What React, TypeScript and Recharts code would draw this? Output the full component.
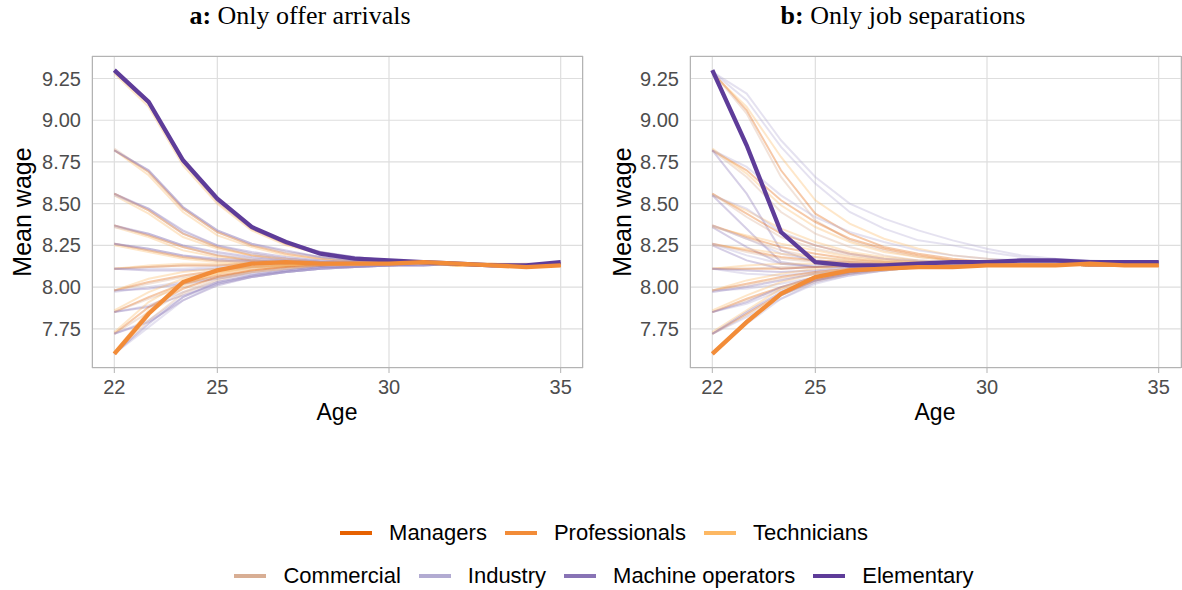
import { LineChart, Line, XAxis, YAxis, CartesianGrid } from "recharts";

// ages on the x axis
const ages = [22, 23, 24, 25, 26, 27, 28, 29, 30, 31, 32, 33, 34, 35];
const ageTicks = [22, 25, 30, 35];
const wageTicks = [7.75, 8, 8.25, 8.5, 8.75, 9, 9.25];

const occupations = [
  "Managers",
  "Professionals",
  "Technicians",
  "Commercial",
  "Industry",
  "Machine operators",
  "Elementary",
];

type Path = [string, number[]];

// a: only offer arrivals (thin paths, one per starting wage and occupation)
const offerPaths: Path[] = [
  ["Managers", [9.29, 9.10, 8.75, 8.52, 8.35, 8.26, 8.20, 8.17, 8.16, 8.15, 8.14, 8.14, 8.13, 8.13]],
  ["Technicians", [9.28, 9.08, 8.73, 8.50, 8.34, 8.25, 8.20, 8.17, 8.15, 8.15, 8.14, 8.14, 8.14, 8.13]],
  ["Commercial", [9.29, 9.10, 8.75, 8.51, 8.35, 8.26, 8.21, 8.17, 8.16, 8.15, 8.14, 8.13, 8.14, 8.14]],
  ["Industry", [9.29, 9.11, 8.76, 8.52, 8.36, 8.27, 8.21, 8.18, 8.16, 8.15, 8.14, 8.13, 8.13, 8.14]],
  ["Machine operators", [9.29, 9.11, 8.76, 8.53, 8.36, 8.27, 8.21, 8.18, 8.16, 8.15, 8.14, 8.13, 8.13, 8.14]],

  ["Managers", [8.82, 8.69, 8.47, 8.33, 8.25, 8.20, 8.17, 8.15, 8.15, 8.14, 8.14, 8.13, 8.13, 8.13]],
  ["Technicians", [8.82, 8.67, 8.45, 8.31, 8.24, 8.19, 8.17, 8.16, 8.15, 8.14, 8.14, 8.14, 8.13, 8.13]],
  ["Commercial", [8.83, 8.69, 8.47, 8.33, 8.25, 8.21, 8.18, 8.16, 8.15, 8.14, 8.14, 8.13, 8.13, 8.14]],
  ["Industry", [8.82, 8.70, 8.48, 8.34, 8.26, 8.21, 8.18, 8.16, 8.15, 8.15, 8.14, 8.13, 8.13, 8.14]],
  ["Machine operators", [8.82, 8.70, 8.48, 8.34, 8.26, 8.22, 8.18, 8.16, 8.15, 8.15, 8.14, 8.13, 8.13, 8.14]],

  ["Managers", [8.56, 8.46, 8.32, 8.24, 8.19, 8.17, 8.15, 8.15, 8.14, 8.14, 8.14, 8.13, 8.13, 8.13]],
  ["Technicians", [8.55, 8.44, 8.30, 8.23, 8.19, 8.16, 8.15, 8.14, 8.14, 8.14, 8.14, 8.13, 8.13, 8.13]],
  ["Commercial", [8.56, 8.46, 8.32, 8.24, 8.20, 8.17, 8.15, 8.15, 8.14, 8.14, 8.14, 8.13, 8.13, 8.14]],
  ["Industry", [8.55, 8.47, 8.33, 8.25, 8.20, 8.17, 8.16, 8.15, 8.14, 8.14, 8.14, 8.13, 8.13, 8.14]],
  ["Machine operators", [8.56, 8.47, 8.34, 8.25, 8.21, 8.18, 8.16, 8.15, 8.14, 8.14, 8.14, 8.13, 8.13, 8.14]],

  ["Managers", [8.37, 8.31, 8.24, 8.19, 8.16, 8.15, 8.14, 8.14, 8.14, 8.14, 8.14, 8.13, 8.13, 8.13]],
  ["Technicians", [8.36, 8.30, 8.22, 8.18, 8.16, 8.15, 8.14, 8.14, 8.14, 8.14, 8.13, 8.13, 8.13, 8.13]],
  ["Commercial", [8.37, 8.31, 8.24, 8.19, 8.17, 8.15, 8.15, 8.14, 8.14, 8.14, 8.14, 8.13, 8.13, 8.14]],
  ["Industry", [8.36, 8.32, 8.25, 8.20, 8.17, 8.16, 8.15, 8.14, 8.14, 8.14, 8.14, 8.13, 8.13, 8.14]],
  ["Machine operators", [8.37, 8.32, 8.25, 8.21, 8.18, 8.16, 8.15, 8.14, 8.14, 8.14, 8.14, 8.13, 8.13, 8.14]],

  ["Managers", [8.26, 8.22, 8.18, 8.16, 8.15, 8.14, 8.14, 8.14, 8.14, 8.14, 8.14, 8.13, 8.13, 8.13]],
  ["Technicians", [8.25, 8.21, 8.17, 8.15, 8.14, 8.14, 8.14, 8.14, 8.14, 8.14, 8.13, 8.13, 8.13, 8.13]],
  ["Commercial", [8.26, 8.22, 8.18, 8.16, 8.15, 8.14, 8.14, 8.14, 8.14, 8.14, 8.14, 8.13, 8.13, 8.14]],
  ["Industry", [8.26, 8.23, 8.19, 8.16, 8.15, 8.15, 8.14, 8.14, 8.14, 8.14, 8.14, 8.13, 8.13, 8.14]],
  ["Machine operators", [8.26, 8.23, 8.19, 8.17, 8.16, 8.15, 8.14, 8.14, 8.14, 8.14, 8.14, 8.13, 8.13, 8.14]],

  ["Managers", [8.11, 8.12, 8.13, 8.13, 8.14, 8.14, 8.14, 8.14, 8.14, 8.14, 8.14, 8.13, 8.13, 8.13]],
  ["Technicians", [8.11, 8.13, 8.14, 8.14, 8.14, 8.14, 8.14, 8.14, 8.14, 8.14, 8.13, 8.13, 8.13, 8.13]],
  ["Commercial", [8.11, 8.12, 8.13, 8.13, 8.14, 8.14, 8.14, 8.14, 8.14, 8.14, 8.14, 8.13, 8.13, 8.14]],
  ["Industry", [8.11, 8.11, 8.11, 8.12, 8.13, 8.13, 8.14, 8.14, 8.14, 8.14, 8.14, 8.13, 8.13, 8.14]],
  ["Machine operators", [8.11, 8.10, 8.10, 8.11, 8.12, 8.13, 8.13, 8.14, 8.14, 8.14, 8.14, 8.13, 8.13, 8.14]],

  ["Managers", [7.98, 8.03, 8.07, 8.10, 8.12, 8.13, 8.14, 8.14, 8.14, 8.14, 8.14, 8.13, 8.13, 8.13]],
  ["Technicians", [7.98, 8.05, 8.09, 8.11, 8.13, 8.13, 8.14, 8.14, 8.14, 8.14, 8.13, 8.13, 8.13, 8.13]],
  ["Commercial", [7.98, 8.02, 8.06, 8.09, 8.11, 8.12, 8.13, 8.14, 8.14, 8.14, 8.14, 8.13, 8.13, 8.14]],
  ["Industry", [7.97, 8.00, 8.03, 8.06, 8.09, 8.11, 8.12, 8.13, 8.13, 8.14, 8.14, 8.13, 8.13, 8.14]],
  ["Machine operators", [7.98, 7.99, 8.02, 8.05, 8.08, 8.10, 8.12, 8.13, 8.13, 8.14, 8.14, 8.13, 8.13, 8.14]],

  ["Managers", [7.85, 7.94, 8.02, 8.07, 8.10, 8.12, 8.13, 8.14, 8.14, 8.14, 8.14, 8.13, 8.13, 8.13]],
  ["Technicians", [7.86, 7.97, 8.05, 8.09, 8.12, 8.13, 8.14, 8.14, 8.14, 8.14, 8.13, 8.13, 8.13, 8.13]],
  ["Commercial", [7.85, 7.93, 8.00, 8.06, 8.09, 8.11, 8.13, 8.13, 8.14, 8.14, 8.14, 8.13, 8.13, 8.14]],
  ["Industry", [7.85, 7.89, 7.97, 8.03, 8.07, 8.09, 8.11, 8.12, 8.13, 8.14, 8.14, 8.13, 8.13, 8.14]],
  ["Machine operators", [7.85, 7.88, 7.95, 8.02, 8.06, 8.09, 8.11, 8.12, 8.13, 8.13, 8.14, 8.13, 8.13, 8.14]],

  ["Managers", [7.72, 7.88, 7.99, 8.06, 8.10, 8.12, 8.13, 8.14, 8.14, 8.14, 8.14, 8.13, 8.13, 8.13]],
  ["Technicians", [7.73, 7.91, 8.03, 8.08, 8.11, 8.13, 8.14, 8.14, 8.14, 8.14, 8.13, 8.13, 8.13, 8.13]],
  ["Commercial", [7.72, 7.85, 7.97, 8.05, 8.09, 8.11, 8.13, 8.13, 8.14, 8.14, 8.14, 8.13, 8.13, 8.14]],
  ["Industry", [7.72, 7.80, 7.94, 8.02, 8.07, 8.09, 8.11, 8.12, 8.13, 8.14, 8.14, 8.13, 8.13, 8.14]],
  ["Machine operators", [7.72, 7.79, 7.92, 8.01, 8.06, 8.09, 8.11, 8.12, 8.13, 8.13, 8.14, 8.13, 8.13, 8.14]],

  ["Technicians", [7.61, 7.86, 8.01, 8.08, 8.12, 8.13, 8.14, 8.14, 8.14, 8.14, 8.13, 8.13, 8.13, 8.13]],
  ["Commercial", [7.60, 7.80, 7.96, 8.04, 8.09, 8.11, 8.13, 8.13, 8.14, 8.14, 8.14, 8.13, 8.13, 8.14]],
  ["Industry", [7.60, 7.76, 7.92, 8.02, 8.06, 8.09, 8.11, 8.12, 8.13, 8.14, 8.14, 8.13, 8.13, 8.14]],
  ["Machine operators", [7.60, 7.78, 7.94, 8.03, 8.07, 8.10, 8.12, 8.12, 8.13, 8.13, 8.14, 8.13, 8.13, 8.14]],
];

// the two thick paths in panel a
const offerHighlights: Path[] = [
  ["Elementary", [9.30, 9.11, 8.76, 8.53, 8.36, 8.27, 8.20, 8.17, 8.16, 8.15, 8.14, 8.13, 8.13, 8.15]],
  ["Professionals", [7.60, 7.84, 8.03, 8.10, 8.14, 8.15, 8.14, 8.14, 8.14, 8.15, 8.14, 8.13, 8.12, 8.13]],
];

// b: only job separations
const separationPaths: Path[] = [
  ["Managers", [9.29, 9.06, 8.70, 8.44, 8.32, 8.24, 8.20, 8.17, 8.15, 8.14, 8.14, 8.13, 8.13, 8.13]],
  ["Technicians", [9.28, 9.08, 8.78, 8.52, 8.38, 8.29, 8.23, 8.19, 8.17, 8.15, 8.14, 8.14, 8.13, 8.13]],
  ["Commercial", [9.29, 9.04, 8.66, 8.40, 8.28, 8.22, 8.18, 8.16, 8.15, 8.14, 8.14, 8.13, 8.13, 8.14]],
  ["Industry", [9.29, 9.16, 8.88, 8.66, 8.50, 8.41, 8.34, 8.28, 8.23, 8.19, 8.17, 8.16, 8.15, 8.15]],
  ["Industry", [9.29, 9.12, 8.84, 8.62, 8.45, 8.35, 8.28, 8.25, 8.21, 8.18, 8.16, 8.15, 8.15, 8.15]],

  ["Managers", [8.82, 8.70, 8.52, 8.39, 8.29, 8.23, 8.19, 8.16, 8.15, 8.14, 8.14, 8.13, 8.13, 8.13]],
  ["Technicians", [8.83, 8.68, 8.49, 8.36, 8.27, 8.21, 8.18, 8.16, 8.15, 8.14, 8.14, 8.14, 8.13, 8.13]],
  ["Commercial", [8.82, 8.66, 8.45, 8.32, 8.24, 8.19, 8.16, 8.15, 8.14, 8.14, 8.14, 8.13, 8.13, 8.14]],
  ["Industry", [8.82, 8.72, 8.55, 8.42, 8.33, 8.27, 8.22, 8.19, 8.17, 8.16, 8.15, 8.15, 8.15, 8.15]],
  ["Machine operators", [8.82, 8.56, 8.22, 8.15, 8.13, 8.13, 8.13, 8.14, 8.14, 8.15, 8.15, 8.15, 8.15, 8.15]],

  ["Managers", [8.56, 8.44, 8.32, 8.25, 8.20, 8.17, 8.15, 8.14, 8.14, 8.14, 8.14, 8.13, 8.13, 8.13]],
  ["Technicians", [8.55, 8.46, 8.35, 8.27, 8.21, 8.18, 8.16, 8.15, 8.14, 8.14, 8.14, 8.14, 8.13, 8.13]],
  ["Commercial", [8.56, 8.42, 8.30, 8.23, 8.19, 8.16, 8.15, 8.14, 8.14, 8.14, 8.14, 8.13, 8.13, 8.14]],
  ["Industry", [8.55, 8.47, 8.33, 8.25, 8.20, 8.17, 8.16, 8.15, 8.15, 8.15, 8.15, 8.15, 8.15, 8.15]],
  ["Machine operators", [8.55, 8.35, 8.15, 8.12, 8.12, 8.13, 8.13, 8.14, 8.14, 8.15, 8.15, 8.15, 8.15, 8.15]],

  ["Managers", [8.37, 8.30, 8.24, 8.20, 8.17, 8.15, 8.14, 8.14, 8.14, 8.14, 8.14, 8.13, 8.13, 8.13]],
  ["Technicians", [8.36, 8.31, 8.26, 8.22, 8.18, 8.16, 8.15, 8.14, 8.14, 8.14, 8.14, 8.14, 8.13, 8.13]],
  ["Commercial", [8.37, 8.29, 8.22, 8.18, 8.16, 8.15, 8.14, 8.14, 8.14, 8.14, 8.14, 8.13, 8.13, 8.14]],
  ["Industry", [8.37, 8.29, 8.20, 8.16, 8.15, 8.14, 8.14, 8.14, 8.15, 8.15, 8.15, 8.15, 8.15, 8.15]],
  ["Machine operators", [8.36, 8.24, 8.14, 8.12, 8.13, 8.13, 8.13, 8.14, 8.14, 8.15, 8.15, 8.15, 8.15, 8.15]],

  ["Managers", [8.26, 8.22, 8.18, 8.16, 8.15, 8.14, 8.14, 8.14, 8.14, 8.14, 8.14, 8.13, 8.13, 8.13]],
  ["Technicians", [8.25, 8.23, 8.20, 8.18, 8.16, 8.15, 8.14, 8.14, 8.14, 8.14, 8.14, 8.14, 8.13, 8.13]],
  ["Commercial", [8.26, 8.21, 8.17, 8.15, 8.14, 8.14, 8.14, 8.14, 8.14, 8.14, 8.14, 8.13, 8.13, 8.14]],
  ["Industry", [8.26, 8.19, 8.14, 8.13, 8.13, 8.13, 8.14, 8.14, 8.15, 8.15, 8.15, 8.15, 8.15, 8.15]],
  ["Machine operators", [8.25, 8.16, 8.11, 8.12, 8.13, 8.13, 8.13, 8.14, 8.14, 8.15, 8.15, 8.15, 8.15, 8.15]],

  ["Managers", [8.11, 8.11, 8.11, 8.12, 8.13, 8.13, 8.14, 8.14, 8.14, 8.14, 8.14, 8.13, 8.13, 8.13]],
  ["Technicians", [8.11, 8.13, 8.14, 8.14, 8.14, 8.14, 8.14, 8.14, 8.14, 8.14, 8.14, 8.14, 8.13, 8.13]],
  ["Commercial", [8.11, 8.11, 8.12, 8.12, 8.13, 8.13, 8.14, 8.14, 8.14, 8.14, 8.14, 8.13, 8.13, 8.14]],
  ["Industry", [8.11, 8.08, 8.07, 8.09, 8.11, 8.12, 8.13, 8.14, 8.14, 8.15, 8.15, 8.15, 8.15, 8.15]],
  ["Machine operators", [8.11, 8.10, 8.09, 8.10, 8.12, 8.13, 8.13, 8.14, 8.14, 8.15, 8.15, 8.15, 8.15, 8.15]],

  ["Managers", [7.98, 8.02, 8.06, 8.09, 8.11, 8.12, 8.13, 8.13, 8.14, 8.14, 8.14, 8.13, 8.13, 8.13]],
  ["Technicians", [7.98, 8.04, 8.08, 8.11, 8.13, 8.13, 8.14, 8.14, 8.14, 8.14, 8.14, 8.14, 8.13, 8.13]],
  ["Commercial", [7.98, 8.01, 8.05, 8.08, 8.10, 8.12, 8.13, 8.13, 8.14, 8.14, 8.14, 8.13, 8.13, 8.14]],
  ["Industry", [7.98, 7.99, 8.02, 8.06, 8.09, 8.11, 8.12, 8.13, 8.14, 8.15, 8.15, 8.15, 8.15, 8.15]],
  ["Machine operators", [7.97, 8.00, 8.04, 8.08, 8.10, 8.12, 8.13, 8.14, 8.14, 8.15, 8.15, 8.15, 8.15, 8.15]],

  ["Managers", [7.85, 7.93, 8.00, 8.06, 8.09, 8.11, 8.12, 8.13, 8.14, 8.14, 8.14, 8.13, 8.13, 8.13]],
  ["Technicians", [7.86, 7.95, 8.03, 8.08, 8.11, 8.12, 8.13, 8.14, 8.14, 8.14, 8.14, 8.14, 8.13, 8.13]],
  ["Commercial", [7.85, 7.92, 7.99, 8.05, 8.09, 8.11, 8.12, 8.13, 8.14, 8.14, 8.14, 8.13, 8.13, 8.14]],
  ["Industry", [7.85, 7.90, 7.98, 8.04, 8.08, 8.10, 8.12, 8.13, 8.14, 8.15, 8.15, 8.15, 8.15, 8.15]],
  ["Machine operators", [7.85, 7.91, 8.00, 8.06, 8.09, 8.11, 8.12, 8.13, 8.14, 8.15, 8.15, 8.15, 8.15, 8.15]],

  ["Managers", [7.72, 7.84, 7.96, 8.04, 8.09, 8.11, 8.12, 8.13, 8.14, 8.14, 8.14, 8.13, 8.13, 8.13]],
  ["Technicians", [7.73, 7.86, 7.99, 8.06, 8.10, 8.12, 8.13, 8.14, 8.14, 8.14, 8.14, 8.14, 8.13, 8.13]],
  ["Commercial", [7.72, 7.83, 7.95, 8.03, 8.08, 8.10, 8.12, 8.13, 8.14, 8.14, 8.14, 8.13, 8.13, 8.14]],
  ["Industry", [7.72, 7.82, 7.93, 8.02, 8.07, 8.10, 8.12, 8.13, 8.14, 8.15, 8.15, 8.15, 8.15, 8.15]],
  ["Machine operators", [7.72, 7.85, 7.97, 8.05, 8.09, 8.11, 8.12, 8.13, 8.14, 8.15, 8.15, 8.15, 8.15, 8.15]],

  ["Technicians", [7.61, 7.80, 7.96, 8.05, 8.09, 8.11, 8.12, 8.13, 8.14, 8.14, 8.14, 8.14, 8.13, 8.13]],
  ["Commercial", [7.60, 7.79, 7.95, 8.04, 8.08, 8.10, 8.12, 8.13, 8.14, 8.14, 8.14, 8.13, 8.13, 8.14]],
  ["Industry", [7.60, 7.78, 7.93, 8.03, 8.07, 8.10, 8.12, 8.13, 8.14, 8.15, 8.15, 8.15, 8.15, 8.15]],
  ["Machine operators", [7.60, 7.80, 7.95, 8.04, 8.08, 8.11, 8.12, 8.13, 8.14, 8.15, 8.15, 8.15, 8.15, 8.15]],
];

const separationHighlights: Path[] = [
  ["Elementary", [9.30, 8.85, 8.33, 8.15, 8.13, 8.13, 8.14, 8.15, 8.15, 8.16, 8.16, 8.15, 8.15, 8.15]],
  ["Professionals", [7.60, 7.79, 7.96, 8.06, 8.10, 8.11, 8.12, 8.12, 8.13, 8.13, 8.13, 8.14, 8.13, 8.13]],
];

const colors: Record<string, string> = {
  Managers: "#E66101",
  Professionals: "#F28C38",
  Technicians: "#FDB863",
  Commercial: "#D8AE94",
  Industry: "#B2ABD2",
  "Machine operators": "#8873B5",
  Elementary: "#5E3C99",
};

const sans = "'Liberation Sans', Arial, sans-serif";

function toRows(paths: Path[]) {
  return ages.map((age, j) => {
    const row: Record<string, number> = { age };
    paths.forEach(([, v], i) => {
      row["p" + i] = v[j];
    });
    return row;
  });
}

function Panel({
  paths,
  highlights,
  width,
  yAxisWidth,
  right,
}: {
  paths: Path[];
  highlights: Path[];
  width: number;
  yAxisWidth: number;
  right: number;
}) {
  const all = [...paths, ...highlights];
  const rows = toRows(all);
  const tick = { fill: "#4D4D4D", fontSize: 20, fontFamily: sans };
  return (
    <LineChart
      width={width}
      height={440}
      data={rows}
      margin={{ top: 56, right, left: 0, bottom: 0 }}
    >
      <CartesianGrid stroke="#DEDEDE" strokeWidth={1.2} />
      <XAxis
        dataKey="age"
        type="number"
        domain={[21.35, 35.65]}
        ticks={ageTicks}
        allowDataOverflow
        height={72}
        axisLine={false}
        tickLine={{ stroke: "#B3B3B3" }}
        tickSize={5}
        tickMargin={7}
        tick={tick}
      />
      <YAxis
        type="number"
        domain={[7.515, 9.385]}
        ticks={wageTicks}
        allowDataOverflow
        width={yAxisWidth}
        axisLine={false}
        tickLine={false}
        tickSize={4}
        tickMargin={7}
        tickFormatter={(v: number) => v.toFixed(2)}
        tick={tick}
      />
      {all.map(([occ], i) => {
        const thick = i >= paths.length;
        return (
          <Line
            key={i}
            type="linear"
            dataKey={"p" + i}
            stroke={colors[occ]}
            strokeOpacity={thick ? 1 : 0.34}
            strokeWidth={thick ? 4.3 : 2}
            dot={false}
            activeDot={false}
            isAnimationActive={false}
          />
        );
      })}
    </LineChart>
  );
}

function Title({ tag, text, center }: { tag: string; text: string; center: number }) {
  return (
    <div
      style={{
        position: "absolute",
        left: center - 200,
        width: 400,
        top: 1,
        textAlign: "center",
        fontFamily: "'Liberation Serif', 'Times New Roman', serif",
        fontSize: 26,
        color: "#000",
      }}
    >
      <b>{tag}</b> {text}
    </div>
  );
}

function Frame({ left, width }: { left: number; width: number }) {
  return (
    <div
      style={{
        position: "absolute",
        left,
        top: 56,
        width,
        height: 312,
        border: "1.3px solid #B3B3B3",
        boxSizing: "border-box",
        pointerEvents: "none",
      }}
    />
  );
}

function AxisTitles({ yCenterX, xCenter }: { yCenterX: number; xCenter: number }) {
  return (
    <>
      <div
        style={{
          position: "absolute",
          left: yCenterX - 100,
          top: 212 - 15,
          width: 200,
          height: 30,
          lineHeight: "30px",
          textAlign: "center",
          transform: "rotate(-90deg)",
          fontFamily: sans,
          fontSize: 25,
        }}
      >
        Mean wage
      </div>
      <div
        style={{
          position: "absolute",
          left: xCenter - 100,
          top: 399,
          width: 200,
          textAlign: "center",
          fontFamily: sans,
          fontSize: 23,
        }}
      >
        Age
      </div>
    </>
  );
}

const legendRows = [occupations.slice(0, 3), occupations.slice(3)];

function Legend() {
  return (
    <>
      {legendRows.map((row, r) => (
        <div
          key={r}
          style={{
            position: "absolute",
            left: 13,
            width: 1182,
            top: r === 0 ? 519 : 562,
            height: 28,
            display: "flex",
            alignItems: "center",
            justifyContent: "center",
            fontFamily: sans,
            fontSize: 22,
            color: "#000",
          }}
        >
          {row.map((occ, i) => (
            <div key={occ} style={{ display: "flex", alignItems: "center", marginLeft: i ? 18 : 0 }}>
              <span
                style={{
                  display: "inline-block",
                  width: 32,
                  height: 4,
                  background: colors[occ],
                  marginRight: 17,
                }}
              />
              <span>{occ}</span>
            </div>
          ))}
        </div>
      ))}
    </>
  );
}

export default function App() {
  return (
    <div
      style={{
        position: "absolute",
        left: 0,
        top: 0,
        width: 1182,
        height: 590,
        background: "#fff",
        overflow: "hidden",
      }}
    >
      <div style={{ position: "absolute", left: 0, top: 0 }}>
        <Panel paths={offerPaths} highlights={offerHighlights} width={600} yAxisWidth={92} right={17} />
      </div>
      <div style={{ position: "absolute", left: 600, top: 0 }}>
        <Panel paths={separationPaths} highlights={separationHighlights} width={582} yAxisWidth={90} right={1} />
      </div>
      <Frame left={92} width={491} />
      <Frame left={690} width={492} />
      <Title tag="a:" text="Only offer arrivals" center={300} />
      <Title tag="b:" text="Only job separations" center={903} />
      <AxisTitles yCenterX={22} xCenter={337} />
      <AxisTitles yCenterX={622} xCenter={935} />
      <Legend />
    </div>
  );
}
